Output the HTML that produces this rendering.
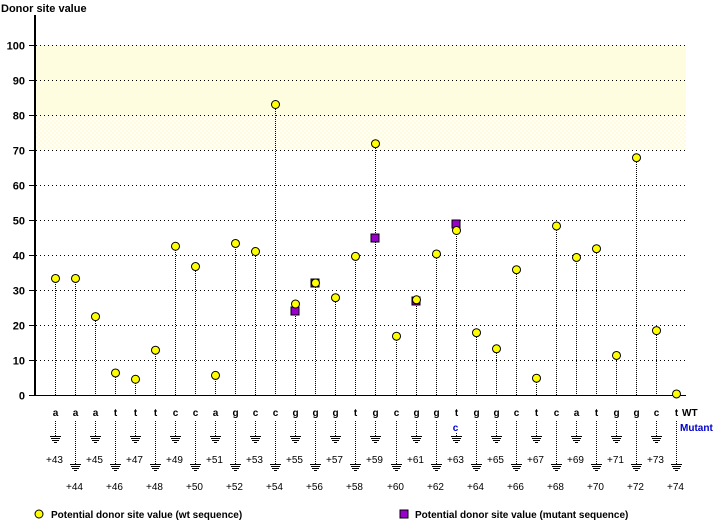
<!DOCTYPE html>
<html><head><meta charset="utf-8"><style>
html,body{margin:0;padding:0;background:#fff;}
svg{display:block;font-family:"Liberation Sans",sans-serif;}
</style></head><body>
<svg id="s" width="720" height="520" xmlns="http://www.w3.org/2000/svg" shape-rendering="crispEdges">
<defs>
<pattern id="dith" width="4" height="4" patternUnits="userSpaceOnUse">
<rect width="4" height="4" fill="#fffff4"/><rect width="2" height="2" fill="#fffbe0"/><rect x="2" y="2" width="2" height="2" fill="#fffbe0"/>
</pattern>
</defs>
<rect x="36" y="45" width="650" height="70" fill="#fffde0"/>
<rect x="36" y="115" width="650" height="35" fill="url(#dith)"/>
<text x="1" y="12" font-size="11" font-weight="bold">Donor site value</text>
<g id="g"></g>
</svg>
<script>
(function(){
var g=document.getElementById('g'),h='';
var v=[33.3,33.3,22.4,6.3,4.5,12.8,42.5,36.7,5.6,43.3,41,83,26,32,27.8,39.6,71.8,16.8,27.2,40.3,47,17.8,13.2,35.8,4.8,48.3,39.3,41.8,11.3,67.8,18.4,0.3];
var m={12:24,13:32,16:45,18:27,20:49};
var L='aaatttccagccgggtgcggtggctcatggct';
function Y(a){return 395-3.5*a;}
for(var k=0;k<=10;k++){var y=Math.round(Y(k*10))+0.5;
 if(k>0)h+='<line x1="36" y1="'+y+'" x2="686" y2="'+y+'" stroke="#000" stroke-dasharray="1,3"/>';
 h+='<line x1="29" y1="'+y+'" x2="35" y2="'+y+'" stroke="#000"/>';
 h+='<text x="25" y="'+(y+4)+'" font-size="11" font-weight="bold" text-anchor="end">'+(k*10)+'</text>';}
h+='<line x1="35" y1="15" x2="35" y2="396" stroke="#000" stroke-width="2"/>';
h+='<line x1="29" y1="395.5" x2="686" y2="395.5" stroke="#000"/>';
function gnd(x,y){var s='',w=[5,4,3,1];for(var j=0;j<4;j++){var yy=y+j*2+0.5;s+='<line x1="'+(x-w[j])+'" y1="'+yy+'" x2="'+(x+w[j]+1)+'" y2="'+yy+'" stroke="#000"/>';}return s;}
var pts='',sq='';
for(var i=0;i<32;i++){var xi=Math.round(55+20.03*i),x=xi+0.5,y=Y(v[i]);
 var tp=Math.round(Math.min(y,m[i]!==undefined?Y(m[i]):y));
 h+='<line x1="'+x+'" y1="'+tp+'" x2="'+x+'" y2="395" stroke="#000" stroke-dasharray="1,1"/>';
 pts+='<circle cx="'+x+'" cy="'+y+'" r="4" fill="#ffff00" stroke="#000" shape-rendering="auto"/>';
 if(m[i]!==undefined){var yy=Y(m[i]);sq+='<rect x="'+(xi-4)+'" y="'+Math.round(yy-4)+'" width="8" height="8" fill="#9900cc" stroke="#000" stroke-width="1"/>';}
 h+='<text x="'+x+'" y="416" font-size="10" font-weight="bold" text-anchor="middle">'+L[i]+'</text>';
 var odd=(i%2==0);var ly=odd?436:464;
 h+='<line x1="'+x+'" y1="'+(i==20?433:421)+'" x2="'+x+'" y2="'+ly+'" stroke="#000" stroke-dasharray="1,1"/>';
 h+=gnd(xi,ly);
 h+='<text x="'+(x-1)+'" y="'+(odd?463:490)+'" font-size="10" text-anchor="middle">+'+(43+i)+'</text>';}
h+=sq+pts;
h+='<text x="455.5" y="431" font-size="10" font-weight="bold" fill="#0000cc" text-anchor="middle">c</text>';
h+='<text x="682" y="416" font-size="10" font-weight="bold">WT</text>';
h+='<text x="680" y="431" font-size="10" font-weight="bold" fill="#0000cc">Mutant</text>';
h+='<circle cx="39" cy="514" r="4" fill="#ffff00" stroke="#000" shape-rendering="auto"/>';
h+='<text x="51" y="518" font-size="10" font-weight="bold">Potential donor site value (wt sequence)</text>';
h+='<rect x="400" y="510" width="8" height="8" fill="#9900cc" stroke="#000" stroke-width="1"/>';
h+='<text x="415" y="518" font-size="10" font-weight="bold">Potential donor site value (mutant sequence)</text>';
g.innerHTML=h;
})();
</script>
</body></html>
